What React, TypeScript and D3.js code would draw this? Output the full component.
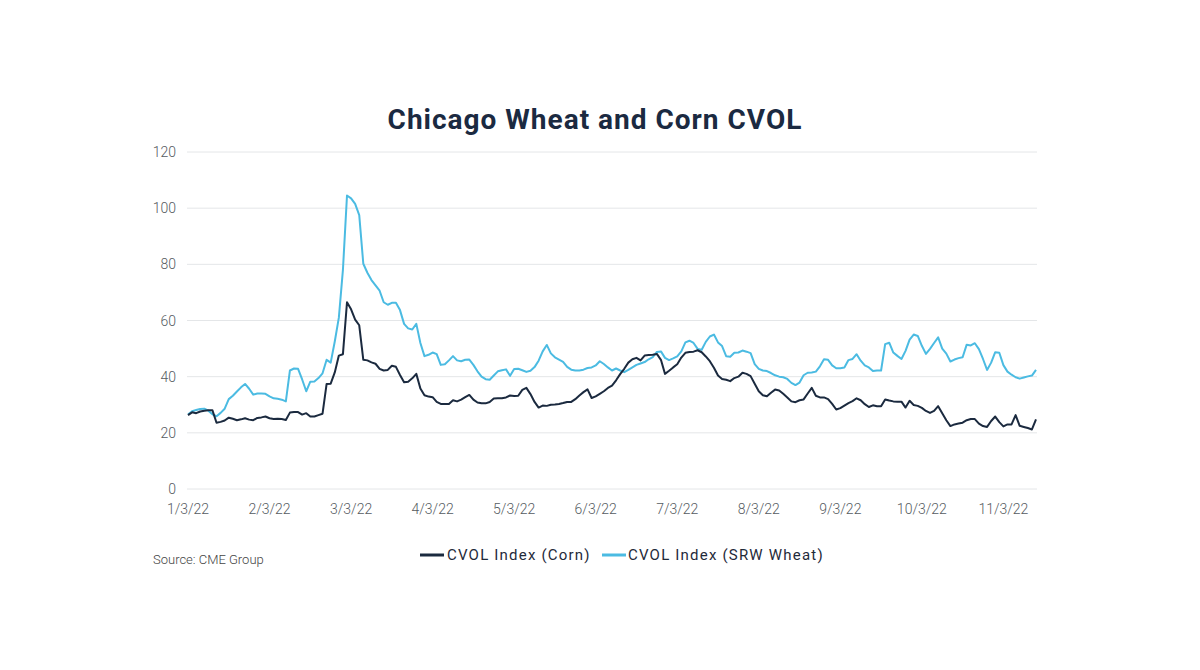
import React from "react";
import * as d3 from "d3";

// tick labels on the x axis (every 20 daily points)
const dateLabels = ["1/3/22", "2/3/22", "3/3/22", "4/3/22", "5/3/22", "6/3/22", "7/3/22", "8/3/22", "9/3/22", "10/3/22", "11/3/22"];
const yTicks = [0, 20, 40, 60, 80, 100, 120];

// CVOL Index (SRW Wheat)
const wheat = [
  26.5, 27.7, 28.1, 28.5, 28.6, 27.9, 26.6, 25.9, 27.1, 28.6,
  32, 33.2, 34.7, 36.2, 37.4, 35.7, 33.6, 34, 34, 33.9,
  33, 32.3, 32.1, 31.8, 31.2, 42.2, 42.9, 42.8, 39, 34.8,
  38.2, 38.3, 39.5, 41.2, 46, 45, 52.5, 61, 78, 104.5,
  103.5, 101.5, 97.5, 80.2, 77, 74.4, 72.5, 70.6, 66.5, 65.6,
  66.3, 66.3, 63.7, 58.8, 57.2, 56.8, 58.8, 52, 47.3, 47.8,
  48.6, 48, 44.2, 44.4, 45.8, 47.3, 45.8, 45.5, 46, 46.1,
  44.2, 41.9, 40, 39.1, 38.9, 40.4, 41.9, 42.3, 42.6, 40.3,
  42.7, 42.8, 42.3, 41.7, 42.1, 43.4, 45.7, 49, 51.3, 48.3,
  46.9, 46.1, 45.3, 43.5, 42.5, 42.2, 42.2, 42.5, 43.1, 43.3,
  44, 45.5, 44.5, 43.3, 42.2, 42.9, 42.2, 41.6, 42.4, 43.3,
  44.2, 44.7, 45.2, 46.2, 47, 48.8, 49, 46.7, 45.9, 46.5,
  47.2, 49, 52.2, 52.8, 52, 49.9, 49.6, 52.4, 54.3, 55,
  52.2, 50.9, 47.3, 47.1, 48.5, 48.6, 49.3, 48.9, 48.4, 44.5,
  42.8, 42.2, 42, 41.3, 40.5, 40, 39.8, 39.2, 37.8, 37,
  37.9, 40.5, 41.4, 41.5, 41.8, 43.7, 46.2, 46, 44, 43,
  43, 43.3, 45.9, 46.3, 48, 45.7, 44, 43.3, 42, 42.2,
  42.2, 51.6, 52.1, 48.6, 47.4, 46.3, 49.2, 53.2, 55, 54.5,
  51, 48.1, 49.9, 52, 54, 50, 48.2, 45.4, 46.1, 46.6,
  46.9, 51.4, 51.1, 51.9, 49.8, 46.3, 42.4, 45, 48.7, 48.5,
  44.1, 41.8, 40.7, 39.8, 39.3, 39.7, 40.1, 40.4, 42.4,
];

// CVOL Index (Corn)
const corn = [
  26.3, 27.3, 27, 27.6, 27.9, 28, 28, 23.6, 23.9, 24.4,
  25.4, 25, 24.5, 24.8, 25.2, 24.7, 24.5, 25.3, 25.5, 25.8,
  25.2, 24.9, 25, 24.9, 24.6, 27.2, 27.4, 27.4, 26.5, 27,
  25.8, 25.8, 26.3, 26.8, 37.4, 37.5, 41.5, 47.5, 48, 66.5,
  64, 60.3, 58.3, 46, 45.8, 45.1, 44.6, 42.8, 42.2, 42.4,
  43.9, 43.5, 40.6, 38, 38.2, 39.4, 41, 35.8, 33.4, 32.9,
  32.7, 31, 30.3, 30.3, 30.3, 31.6, 31.2, 31.8, 32.7, 33.5,
  31.8, 30.8, 30.5, 30.5, 31, 32.2, 32.3, 32.3, 32.6, 33.3,
  33.1, 33.2, 35.3, 36, 33.8, 31, 29, 29.7, 29.6, 30,
  30.1, 30.3, 30.6, 31, 31, 32, 33.3, 34.5, 35.5, 32.4,
  33, 33.9, 34.8, 36, 36.8, 38.7, 40.9, 42.8, 45, 46.2,
  46.7, 45.8, 47.5, 47.7, 47.8, 48.1, 46, 41, 42.1, 43.3,
  44.4, 46.8, 48.5, 48.8, 48.9, 49.4, 48.7, 47.2, 45.5, 43.2,
  40.4, 39.2, 38.9, 38.4, 39.5, 40, 41.4, 41, 40.2, 37.5,
  34.8, 33.4, 33, 34.3, 35.4, 35.1, 33.9, 32.6, 31.2, 30.9,
  31.6, 31.9, 34, 36, 33.2, 32.6, 32.6, 32, 30.3, 28.3,
  28.8, 29.7, 30.6, 31.3, 32.3, 31.6, 30.2, 29.2, 29.8, 29.5,
  29.5, 31.9, 31.5, 31.2, 31.1, 31.1, 29, 31.4, 29.9, 29.6,
  28.9, 27.8, 27.1, 27.8, 29.5, 27, 24.5, 22.4, 23, 23.3,
  23.6, 24.5, 24.9, 24.9, 23.3, 22.4, 22.1, 24.2, 25.8, 23.8,
  22.3, 23, 23, 26.3, 22.5, 22.1, 21.7, 21.2, 24.8,
];

const W = 1200;
const H = 670;
const plot = { left: 188, right: 1036, top: 152, bottom: 489 };
const PER_LABEL = 20;

const CORN_COLOR = "#1b2a3f";
const WHEAT_COLOR = "#4bbbe2";
const TEXT_GRAY = "#555b61";

const App = () => {
  const x = d3.scaleLinear().domain([0, wheat.length - 1]).range([plot.left, plot.right]);
  const y = d3.scaleLinear().domain([0, 120]).range([plot.bottom, plot.top]);

  const line = d3
    .line<number>()
    .x((_, i) => x(i))
    .y((d) => y(d));

  const font = "Roboto, 'Noto Sans', sans-serif";

  return (
    <svg
      width={W}
      height={H}
      style={{ position: "absolute", left: 0, top: 0, background: "#fff" }}
      fontFamily={font}
    >
      <text x={595} y={129} textAnchor="middle" fontSize={28} fontWeight={700} fill="#1b2a41" letterSpacing={1}>
        Chicago Wheat and Corn CVOL
      </text>

      {/* gridlines + y labels */}
      {yTicks.map((t) => (
        <g key={t}>
          <line x1={plot.left - 1} x2={plot.right + 1} y1={y(t)} y2={y(t)} stroke="#e4e6e8" strokeWidth={1} />
          <text x={176} y={y(t) + 5} textAnchor="end" fontSize={14} fill={TEXT_GRAY} fontWeight={300}>
            {t}
          </text>
        </g>
      ))}

      {/* x labels */}
      {dateLabels.map((d, i) => (
        <text key={d} x={x(i * PER_LABEL)} y={514} textAnchor="middle" fontSize={14} fill={TEXT_GRAY} fontWeight={300}>
          {d}
        </text>
      ))}

      <path d={line(wheat) || ""} fill="none" stroke={WHEAT_COLOR} strokeWidth={2} strokeLinejoin="round" />
      <path d={line(corn) || ""} fill="none" stroke={CORN_COLOR} strokeWidth={2} strokeLinejoin="round" />

      {/* legend */}
      <g fontSize={15} fill="#1f2a3a" letterSpacing={1.2}>
        <line x1={420} x2={444} y1={555} y2={555} stroke={CORN_COLOR} strokeWidth={3} />
        <text x={447} y={560}>CVOL Index (Corn)</text>
        <line x1={602} x2={626} y1={555} y2={555} stroke={WHEAT_COLOR} strokeWidth={3} />
        <text x={628} y={560}>CVOL Index (SRW Wheat)</text>
      </g>

      <text x={153} y={564} fontSize={13} fill="#444" fontWeight={300}>
        Source: CME Group
      </text>
    </svg>
  );
};

export default App;
